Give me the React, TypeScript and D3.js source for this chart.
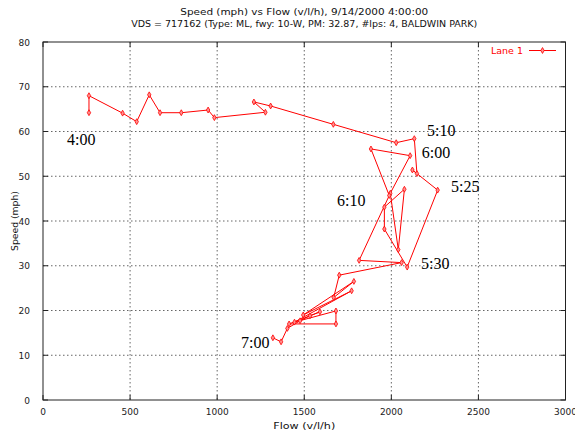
import React from 'react';
import * as d3 from 'd3';

// Lane 1 series, in time order (5-minute samples)
const flow: number[] = [
  264, 264, 457, 538, 610, 672, 794, 948, 984, 1277, 1211, 1307, 1667, 2028, 2132,
  2147, 2121, 2266, 2091, 1960, 1960, 2075, 2040, 1994, 2108, 1883, 1988,
  1815, 2059,
  1701, 1669, 1785, 1494, 1772, 1444, 1682, 1682, 1413, 1590, 1533, 1476, 1403, 1367, 1320,
];
const speed: number[] = [
  64.2, 68.0, 64.1, 62.2, 68.2, 64.2, 64.2, 64.8, 63.1, 64.3, 66.6, 65.7, 61.6, 57.5, 58.4,
  50.6, 51.4, 46.9, 29.7, 38.2, 43.1, 47.1, 33.6, 46.2, 54.6, 56.1, 45.7,
  31.2, 30.7,
  27.9, 22.9, 26.5, 19.0, 24.4, 17.4, 19.9, 17.0, 17.0, 19.7, 18.8, 17.7, 16.0, 13.0, 13.9,
];

// time annotations
const annText: string[] = ['4:00', '5:10', '6:00', '5:25', '6:10', '5:30', '7:00'];
const annFlow: number[] = [138, 2205, 2175, 2343, 1688, 2170, 1137];
const annSpeed: number[] = [57.0, 58.9, 54.1, 46.5, 43.3, 29.2, 11.6];

const xTicks: number[] = [0, 500, 1000, 1500, 2000, 2500, 3000];
const yTicks: number[] = [0, 10, 20, 30, 40, 50, 60, 70, 80];

const title1 = 'Speed (mph) vs Flow (v/l/h), 9/14/2000 4:00:00';
const title2 = 'VDS = 717162 (Type: ML, fwy: 10-W, PM: 32.87, #lps: 4, BALDWIN PARK)';
const xLabel = 'Flow (v/l/h)';
const yLabel = 'Speed (mph)';
const seriesName = 'Lane 1';

export default function App() {
  const W = 575;
  const H = 432;
  const left = 43, right = 565.5, top = 42, bottom = 400;
  const x = d3.scaleLinear().domain([0, 3000]).range([left, right]);
  const y = d3.scaleLinear().domain([0, 80]).range([bottom, top]);
  const idx = d3.range(flow.length);
  const line = d3
    .line<number>()
    .x((i) => x(flow[i]))
    .y((i) => y(speed[i]));
  const sym = d3.symbol().type(d3.symbolDiamond).size(10);
  const red = '#ff0000';
  const smallFont = 'DejaVu Sans, sans-serif';
  const cx = (left + right) / 2;

  return (
    <svg
      width={W}
      height={H}
      viewBox={`0 0 ${W} ${H}`}
      style={{ position: 'absolute', left: 0, top: 0, background: '#fff' }}
    >
      <rect x={0} y={0} width={W} height={H} fill="#fff" />
      {/* titles */}
      <text x={cx} y={15} textAnchor="middle" fontFamily={smallFont} fontSize={9.5} fill="#111"
        textLength={248} lengthAdjust="spacingAndGlyphs">{title1}</text>
      <text x={cx} y={27} textAnchor="middle" fontFamily={smallFont} fontSize={9.5} fill="#111"
        textLength={346} lengthAdjust="spacingAndGlyphs">{title2}</text>

      {/* grid */}
      {xTicks.filter((t) => t > 0 && t < 3000).map((t) => (
        <line key={'gx' + t} x1={x(t)} x2={x(t)} y1={top} y2={bottom}
          stroke="#666" strokeWidth={1} strokeDasharray="1.5,2.5" />
      ))}
      {yTicks.filter((t) => t > 0 && t < 80).map((t) => (
        <line key={'gy' + t} x1={left} x2={right} y1={y(t)} y2={y(t)}
          stroke="#666" strokeWidth={1} strokeDasharray="1.5,2.5" />
      ))}
      {/* ticks (mirrored) */}
      {xTicks.map((t) => (
        <g key={'tx' + t}>
          <line x1={x(t)} x2={x(t)} y1={bottom} y2={bottom - 5} stroke="#222" />
          <line x1={x(t)} x2={x(t)} y1={top} y2={top + 5} stroke="#222" />
          <text x={x(t)} y={415} textAnchor="middle" fontFamily={smallFont} fontSize={9} fill="#222">{t}</text>
        </g>
      ))}
      {yTicks.map((t) => (
        <g key={'ty' + t}>
          <line x1={left} x2={left + 5} y1={y(t)} y2={y(t)} stroke="#222" />
          <line x1={right} x2={right - 5} y1={y(t)} y2={y(t)} stroke="#222" />
          <text x={30} y={y(t) + 3.5} textAnchor="end" fontFamily={smallFont} fontSize={9} fill="#222">{t}</text>
        </g>
      ))}
      {/* frame */}
      <rect x={left} y={top} width={right - left} height={bottom - top} fill="none" stroke="#222" strokeWidth={1} />

      {/* axis labels */}
      <text x={cx} y={429} textAnchor="middle" fontFamily={smallFont} fontSize={9.5} fill="#111"
        textLength={62} lengthAdjust="spacingAndGlyphs">{xLabel}</text>
      <text transform={`translate(18,${(top + bottom) / 2}) rotate(-90)`} textAnchor="middle"
        fontFamily={smallFont} fontSize={9.5} fill="#111"
        textLength={60} lengthAdjust="spacingAndGlyphs">{yLabel}</text>

      {/* series */}
      <path d={line(idx) || ''} fill="none" stroke={red} strokeWidth={1} strokeLinejoin="round" />
      {idx.map((i) => (
        <path key={'p' + i} d={sym() || ''} transform={`translate(${x(flow[i])},${y(speed[i])})`}
          fill="#ff9090" stroke={red} strokeWidth={0.8} />
      ))}

      {/* time annotations */}
      {annText.map((t, i) => (
        <text key={'a' + i} x={x(annFlow[i])} y={y(annSpeed[i])} fontFamily="Liberation Serif, serif"
          fontSize={16} fill="#000">{t}</text>
      ))}

      {/* legend */}
      <text x={523} y={54} textAnchor="end" fontFamily={smallFont} fontSize={9.5} fill={red}>{seriesName}</text>
      <line x1={529} x2={556} y1={50.5} y2={50.5} stroke={red} strokeWidth={1} />
      <path d={sym() || ''} transform="translate(542.5,50.5)" fill="#ff9090" stroke={red} strokeWidth={0.8} />
    </svg>
  );
}
